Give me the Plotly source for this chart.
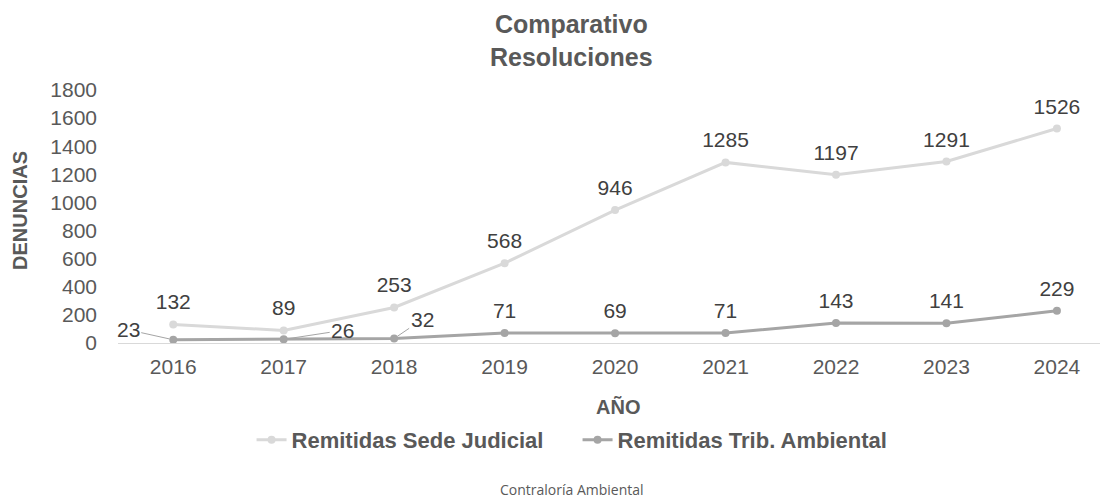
import plotly.graph_objects as go

years = ["2016", "2017", "2018", "2019", "2020", "2021", "2022", "2023", "2024"]
sede_judicial = [132, 89, 253, 568, 946, 1285, 1197, 1291, 1526]
trib_ambiental = [23, 26, 32, 71, 69, 71, 143, 141, 229]
y_ticks = [0, 200, 400, 600, 800, 1000, 1200, 1400, 1600, 1800]

# labels for trib series drawn with leader lines (first three points)
leader_idx = [0, 1, 2]
leader_offsets = [(-45, -10), (59, -9), (28, -19)]

FONT = "Arial"
TXT = "#595959"
LBL = "#404040"
LBL_SIZE = 21

fig = go.Figure()
fig.add_trace(go.Scatter(
    x=years, y=sede_judicial, name="Remitidas Sede Judicial",
    mode="lines+markers", line=dict(color="#D9D9D9", width=3),
    marker=dict(color="#D9D9D9", size=8),
))
fig.add_trace(go.Scatter(
    x=years, y=trib_ambiental, name="Remitidas Trib. Ambiental",
    mode="lines+markers", line=dict(color="#A5A5A5", width=3),
    marker=dict(color="#A5A5A5", size=8),
))
# invisible helper traces carrying the data labels (larger marker -> larger text offset)
fig.add_trace(go.Scatter(
    x=years, y=sede_judicial, mode="markers+text", showlegend=False, hoverinfo="skip",
    text=[str(v) for v in sede_judicial], textposition="top center",
    textfont=dict(size=LBL_SIZE, color=LBL, family=FONT),
    marker=dict(size=14, opacity=0),
))
trib_text = ["" if i in leader_idx else str(v) for i, v in enumerate(trib_ambiental)]
fig.add_trace(go.Scatter(
    x=years, y=trib_ambiental, mode="markers+text", showlegend=False, hoverinfo="skip",
    text=trib_text, textposition="top center",
    textfont=dict(size=LBL_SIZE, color=LBL, family=FONT),
    marker=dict(size=14, opacity=0),
))
for i, (ax, ay) in zip(leader_idx, leader_offsets):
    fig.add_annotation(x=i, y=trib_ambiental[i], xref="x", yref="y",
                       text=str(trib_ambiental[i]),
                       showarrow=True, arrowhead=0, arrowwidth=1, arrowcolor="#A5A5A5",
                       ax=ax, ay=ay, standoff=4,
                       font=dict(size=LBL_SIZE, color=LBL, family=FONT))

# title
fig.add_annotation(text="<b>Comparativo<br>Resoluciones</b>", xref="paper", yref="paper",
                   x=0.462, y=1.194, xanchor="center", yanchor="middle", showarrow=False,
                   font=dict(size=25, color=TXT, family=FONT))
# axis titles
fig.add_annotation(text="<b>DENUNCIAS</b>", xref="paper", yref="paper",
                   x=-0.0998, y=0.526, xanchor="center", yanchor="middle", textangle=-90,
                   showarrow=False, font=dict(size=20, color=TXT, family=FONT))
fig.add_annotation(text="<b>AÑO</b>", xref="paper", yref="paper",
                   x=0.509, y=-0.253, xanchor="center", yanchor="middle",
                   showarrow=False, font=dict(size=20, color=TXT, family=FONT))
# footer
fig.add_annotation(text="Contraloría Ambiental", xref="paper", yref="paper",
                   x=0.462, y=-0.58, xanchor="center", yanchor="middle", showarrow=False,
                   font=dict(size=14, color=TXT, family="Open Sans"))

fig.update_layout(
    width=1100, height=499,
    margin=dict(l=118, r=0, t=90, b=156, autoexpand=False),
    paper_bgcolor="white", plot_bgcolor="white",
    font=dict(family=FONT, color=TXT),
    xaxis=dict(type="category", range=[-0.5, 8.39], showgrid=False,
               showline=True, linecolor="#D9D9D9", linewidth=1,
               tickfont=dict(size=21, color=TXT), ticks="", ticklabelstandoff=5,
               automargin=False),
    yaxis=dict(range=[0, 1800], tickvals=y_ticks, showgrid=False, zeroline=False,
               tickfont=dict(size=21, color=TXT), ticks="", ticklabelstandoff=20,
               automargin=False),
    legend=dict(orientation="h", x=0.136, xanchor="left", y=-0.383, yanchor="middle",
                font=dict(size=22, color=TXT, family=FONT, weight="bold"),
                itemwidth=30, entrywidth=281, traceorder="normal"),
    showlegend=True,
)
fig.write_html("out.html", post_script="document.body.style.margin='0';",
               config={"displayModeBar": False})
